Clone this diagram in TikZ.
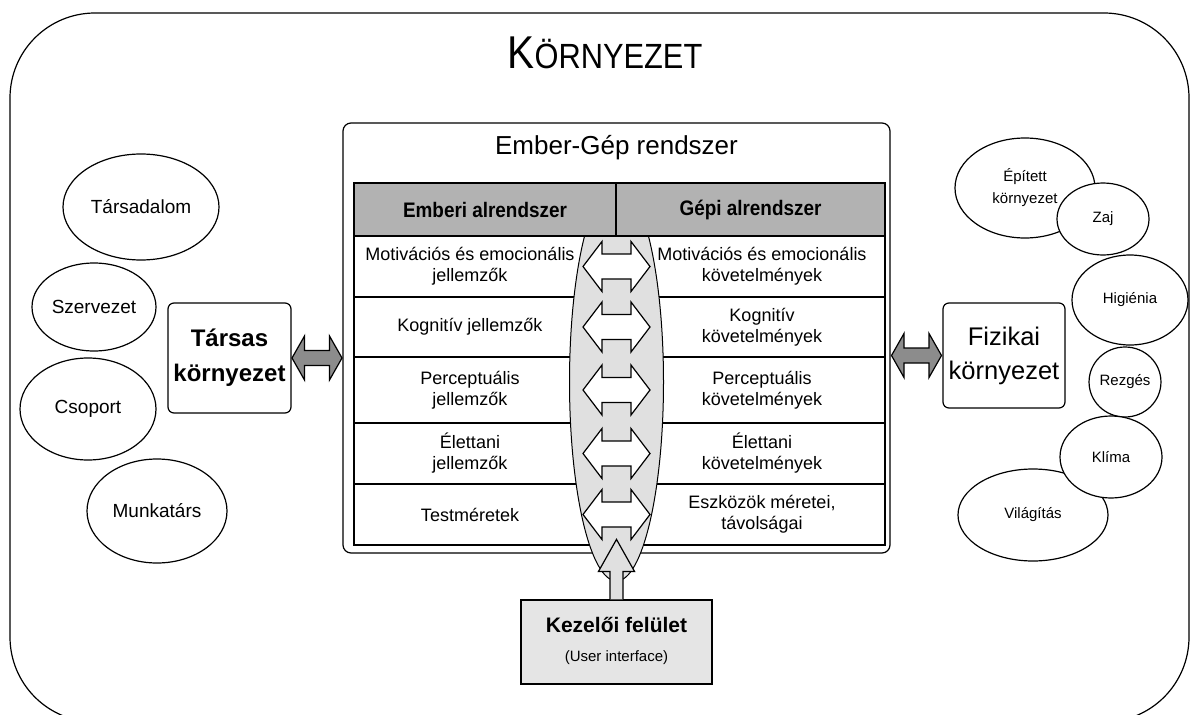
\documentclass[tikz,border=0pt]{standalone}
\usepackage{fontspec}
\usepackage{graphicx}
\setmainfont{Liberation Sans}
\usetikzlibrary{shapes.geometric,calc}

\begin{document}
\begin{tikzpicture}[x=1pt,y=-1pt,line width=1.2pt,
% common options for the bubbles:
bubble/.style = {ellipse, draw, fill=white, align=center, inner sep=0},
% common options for the side boxes:
sidebox/.style = {draw, fill=white, rounded corners=6pt, align=center, inner sep=0},
% common options for the table:
cell/.style = {align=center, inner sep=0, font=\fontsize{18}{21}\selectfont},
headcell/.style = {draw, fill=black!30, minimum height=53pt, inner sep=0,
            font=\fontsize{21}{21}\selectfont\bfseries},
% block arrows:
grayarrow/.pic = {\draw[fill=black!45] (-25,0) -- (-12.5,-22) -- (-12.5,-7.5)
  -- (12.5,-7.5) -- (12.5,-22) -- (25,0) -- (12.5,22) -- (12.5,7.5)
  -- (-12.5,7.5) -- (-12.5,22) -- cycle;},
whitearrow/.pic = {\draw[fill=white] (-33.5,0) -- (-14.5,-25) -- (-14.5,-12.5)
  -- (14.5,-12.5) -- (14.5,-25) -- (33.5,0) -- (14.5,25) -- (14.5,12.5)
  -- (-14.5,12.5) -- (-14.5,25) -- cycle;}]
\useasboundingbox (0,0) rectangle (1192,715);
\begin{scope}
\clip (0,0) rectangle (1192,715);
\draw[rounded corners=85pt] (10,13) rectangle (1189,722);
\end{scope}
\node[anchor=base] (title) at (605,68) {\scalebox{0.88}[1]{\fontsize{46}{46}\selectfont K\fontsize{35}{35}\selectfont ÖRNYEZET}};
% social side
\node[bubble, minimum width=156pt, minimum height=106pt, font=\fontsize{19}{22}\selectfont] (S1) at (141,207) {Társadalom};
\node[bubble, minimum width=124pt, minimum height=88pt, font=\fontsize{19}{22}\selectfont] (S2) at (94,307) {Szervezet};
\node[bubble, minimum width=136pt, minimum height=102pt, font=\fontsize{19}{22}\selectfont] (S3) at (88,409) {Csoport};
\node[bubble, minimum width=140pt, minimum height=104pt, font=\fontsize{19}{22}\selectfont] (S4) at (157,511) {Munkatárs};
\node[sidebox, minimum width=123pt, minimum height=110pt, font=\fontsize{24}{35}\selectfont\bfseries] (tarsas) at (229.5,358) {Társas\\környezet};
% physical side
\node[bubble, minimum width=140pt, minimum height=100pt, font=\fontsize{15}{22}\selectfont] (P1) at (1025,188) {Épített\\környezet};
\node[bubble, minimum width=92pt, minimum height=72pt, font=\fontsize{15}{22}\selectfont] (P2) at (1103,219) {Zaj};
\node[bubble, minimum width=116pt, minimum height=90pt, font=\fontsize{15}{22}\selectfont] (P3) at (1130,300) {Higiénia};
\node[bubble, minimum width=70pt, minimum height=70pt, font=\fontsize{15}{22}\selectfont] (P4) at (1125,382) {Rezgés};
\node[bubble, minimum width=150pt, minimum height=92pt, font=\fontsize{15}{22}\selectfont] (P5) at (1033,515) {Világítás};
\node[bubble, minimum width=102pt, minimum height=82pt, font=\fontsize{15}{22}\selectfont] (P6) at (1111,457) {Klíma};
\node[sidebox, minimum width=122pt, minimum height=105pt, font=\fontsize{25.5}{34}\selectfont] (fizikai) at (1004,355.5) {Fizikai\\környezet};
% man-machine system
\node[draw, fill=white, rounded corners=8pt, minimum width=547pt, minimum height=430pt] (emgep) at (616.5,338) {};
\node[font=\fontsize{26}{26}\selectfont] (emgeptitle) at (616.5,148) {Ember-Gép rendszer};
\draw (354,236) rectangle (885,545);
\foreach \y in {297,357,423,484} \draw (354,\y) -- (885,\y);
\node[cell] (L1) at (470,266.5) {Motivációs és emocionális\\jellemzők};
\node[cell] (R1) at (762,266.5) {Motivációs és emocionális\\követelmények};
\node[cell] (L2) at (470,327) {Kognitív jellemzők};
\node[cell] (R2) at (762,327) {Kognitív\\követelmények};
\node[cell] (L3) at (470,390) {Perceptuális\\jellemzők};
\node[cell] (R3) at (762,390) {Perceptuális\\követelmények};
\node[cell] (L4) at (470,453.5) {Élettani\\jellemzők};
\node[cell] (R4) at (762,453.5) {Élettani\\követelmények};
\node[cell] (L5) at (470,514.5) {Testméretek};
\node[cell] (R5) at (762,514.5) {Eszközök méretei,\\távolságai};
\node[ellipse, draw, line width=1pt, fill=black!12, minimum width=94pt, minimum height=398pt, inner sep=0] (lens) at (616.5,382) {};
\node[headcell, minimum width=262pt] (HL) at (485,209.5) {\scalebox{0.9}[1]{Emberi alrendszer}};
\node[headcell, minimum width=269pt] (HR) at (750.5,209.5) {\scalebox{0.9}[1]{Gépi alrendszer}};
\foreach \n in {1,...,5} \pic at (L\n -| lens) {whitearrow};
% user interface
\node[draw, fill=black!10, minimum width=191pt, minimum height=84pt] (kezelo) at (616.5,642) {};
\node[font=\fontsize{21}{21}\selectfont\bfseries] (kez1) at (616.5,625) {Kezelői felület};
\node[font=\fontsize{15}{15}\selectfont] (kez2) at (616.5,658) {(User interface)};
\draw[fill=black!12] ([xshift=-6.5pt]kezelo.north) -- ++(0,-28) -- ++(-11.5,0) -- ++(18,-32)
  -- ++(18,32) -- ++(-11.5,0) -- ++(0,28);
% links to the environment
\pic at ($(tarsas.east)!0.5!(tarsas.east -| emgep.west)$) {grayarrow};
\pic at ($(fizikai.west)!0.5!(fizikai.west -| emgep.east)$) {grayarrow};
\end{tikzpicture}
\end{document}
